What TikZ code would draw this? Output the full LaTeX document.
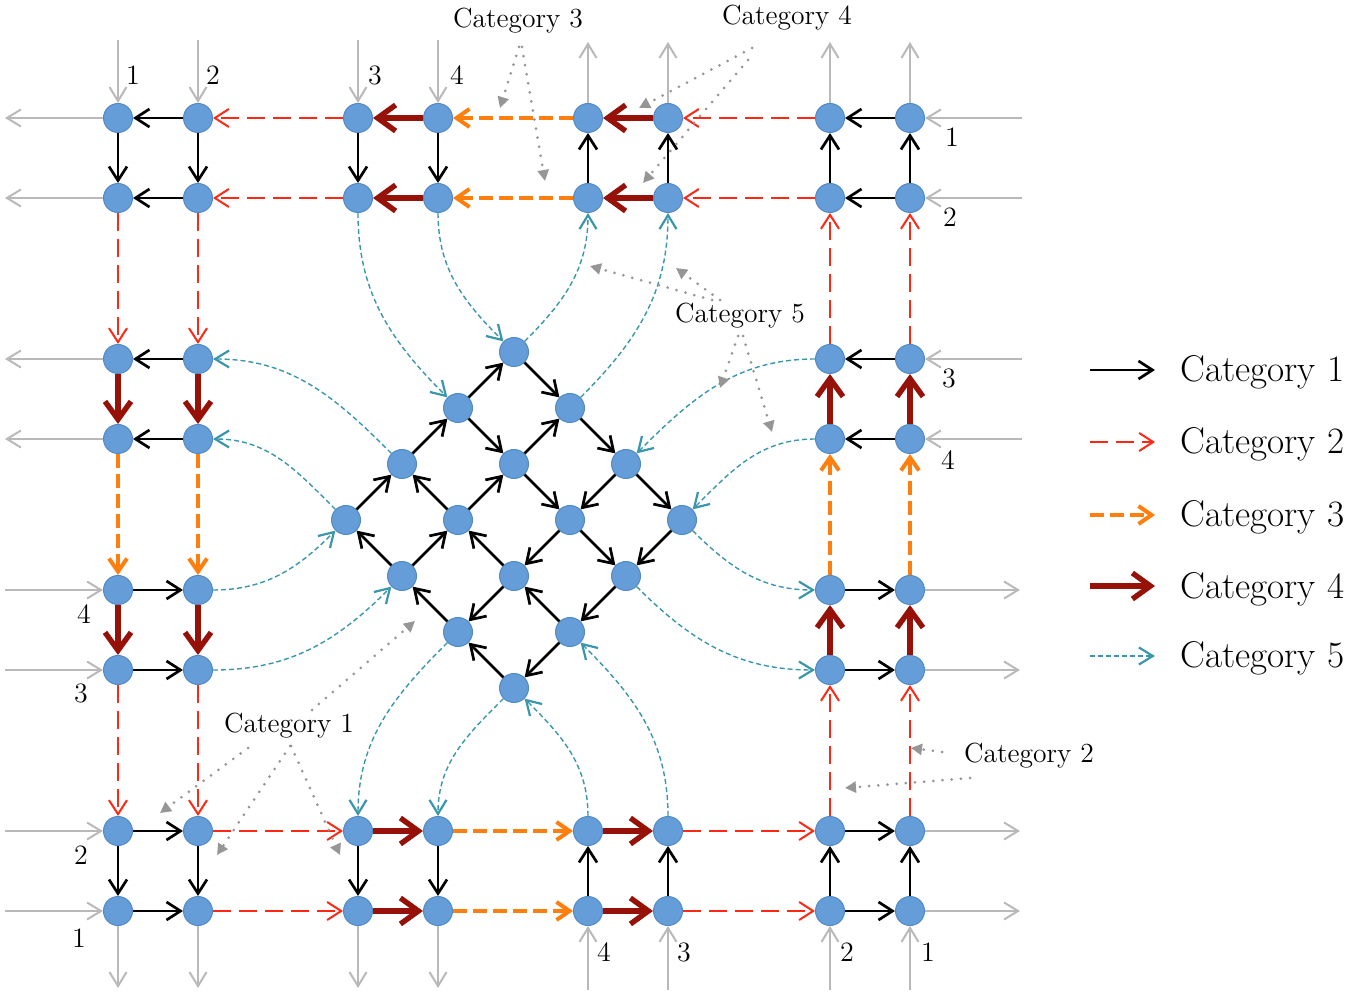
\documentclass[tikz,border=0pt]{standalone}
\usepackage{fontspec}
\usetikzlibrary{arrows.meta}
\definecolor{nodefill}{RGB}{101,157,217}
\definecolor{nodeline}{RGB}{82,138,200}
\definecolor{cred}{RGB}{255,40,20}
\definecolor{corange}{RGB}{255,127,14}
\definecolor{cdark}{RGB}{150,18,8}
\definecolor{cteal}{RGB}{58,150,170}
\definecolor{cgray}{RGB}{185,185,185}
\definecolor{dotgray}{RGB}{150,150,150}
\begin{document}
\begin{tikzpicture}[x=0.5pt,y=-0.5pt,
  vtx/.style={circle,fill=nodefill,draw=nodeline,line width=0.5pt,minimum size=14.5pt,inner sep=0pt},
  c1/.style={draw=black,line width=1.35pt,-{Straight Barb[length=7pt,width=9pt]}},
  c2/.style={draw=cred,line width=1pt,dash pattern=on 9pt off 4pt,-{Straight Barb[length=7pt,width=9pt]}},
  c3/.style={draw=corange,line width=2pt,dash pattern=on 7pt off 3pt,-{Straight Barb[length=6.5pt,width=9pt]}},
  c4/.style={draw=cdark,line width=2.7pt,-{Straight Barb[length=9pt,width=13pt]}},
  c5/.style={draw=cteal,line width=0.7pt,dash pattern=on 2.5pt off 1.5pt,-{Straight Barb[length=7pt,width=8.5pt,line width=1.1pt]}},
  gio/.style={draw=cgray,line width=1pt,-{Straight Barb[length=7pt,width=8.5pt]}},
  ann/.style={draw=dotgray,line width=1.5pt,line cap=round,dash pattern=on 0pt off 4.6pt,-{Triangle[length=5.5pt,width=5.5pt]}},
  num/.style={font=\fontsize{14}{16}\selectfont,inner sep=0pt},
  anntext/.style={font=\fontsize{13.8}{16}\selectfont,inner sep=1pt},
  legtext/.style={font=\fontsize{18.6}{21}\selectfont,inner sep=0pt,anchor=base west}]
\useasboundingbox (0,0) rectangle (1362,1000);

% perimeter nodes
\foreach \c/\x in {1/118,2/198,3/358,4/438,5/588,6/668,7/830,8/910}{
  \foreach \r/\y in {1/118,2/198,7/831,8/911}{
    \node[vtx] (p\c\r) at (\x,\y) {};
  }
}
\foreach \c/\x in {1/118,2/198,7/830,8/910}{
  \foreach \r/\y in {3/359,4/439,5/590,6/670}{
    \node[vtx] (p\c\r) at (\x,\y) {};
  }
}
% lattice nodes
\foreach \i in {0,...,3}{
  \foreach \j in {0,...,3}{
    \node[vtx] (L\i\j) at ({346+56*\i+56*\j},{520-56*\i+56*\j}) {};
  }
}

% category 1 (black)
\foreach \a/\b in {21/11,22/12,11/12,21/22,31/32,41/42,52/51,62/61,
  81/71,82/72,72/71,82/81,83/73,84/74,75/85,76/86,
  77/87,78/88,78/77,88/87,58/57,68/67,37/38,47/48,
  17/27,18/28,17/18,27/28,23/13,24/14,15/25,16/26}
  \draw[c1] (p\a) -- (p\b);
\foreach \a/\b in {00/10,10/20,20/30,01/11,11/21,21/31,32/22,22/12,12/02,
  33/23,23/13,13/03,20/21,21/22,22/23,30/31,31/32,32/33,
  03/02,02/01,01/00,13/12,12/11,11/10}
  \draw[c1] (L\a) -- (L\b);

% category 2 (red dashed)
\foreach \a/\b in {31/21,32/22,71/61,72/62,73/72,83/82,77/76,87/86,
  67/77,68/78,27/37,28/38,12/13,22/23,16/17,26/27}
  \draw[c2] (p\a) -- (p\b);

% category 3 (orange dashed)
\foreach \a/\b in {51/41,52/42,75/74,85/84,47/57,48/58,14/15,24/25}
  \draw[c3] (p\a) -- (p\b);

% category 4 (dark red)
\foreach \a/\b in {41/31,42/32,61/51,62/52,74/73,84/83,76/75,86/85,
  57/67,58/68,37/47,38/48,13/14,23/24,15/16,25/26}
  \draw[c4] (p\a) -- (p\b);

% category 5 (teal curves)
\draw[c5] (p32) to[out=270,in=135] (L20);
\draw[c5] (p42) to[out=270,in=135] (L30);
\draw[c5] (L30) to[out=45,in=270] (p52);
\draw[c5] (L31) to[out=45,in=270] (p62);
\draw[c5] (p73) to[out=180,in=45] (L32);
\draw[c5] (p74) to[out=180,in=45] (L33);
\draw[c5] (L33) to[out=-45,in=180] (p75);
\draw[c5] (L23) to[out=-45,in=180] (p76);
\draw[c5] (p67) to[out=90,in=-45] (L13);
\draw[c5] (p57) to[out=90,in=-45] (L03);
\draw[c5] (L03) to[out=225,in=90] (p47);
\draw[c5] (L02) to[out=225,in=90] (p37);
\draw[c5] (p26) to[out=0,in=225] (L01);
\draw[c5] (p25) to[out=0,in=225] (L00);
\draw[c5] (L00) to[out=135,in=0] (p24);
\draw[c5] (L10) to[out=135,in=0] (p23);

% gray inputs / outputs
\foreach \c/\x in {1/118,2/198,3/358,4/438}{
  \coordinate (ti\c) at (\x,40); \draw[gio] (ti\c) -- (p\c1);
  \coordinate (bo\c) at (\x,988); \draw[gio] (p\c8) -- (bo\c);
}
\foreach \c/\x in {5/588,6/668,7/830,8/910}{
  \coordinate (to\c) at (\x,42); \draw[gio] (p\c1) -- (to\c);
  \coordinate (bi\c) at (\x,990); \draw[gio] (bi\c) -- (p\c8);
}
\foreach \r/\y in {1/118,2/198,3/359,4/439}{
  \coordinate (lo\r) at (5,\y); \draw[gio] (p1\r) -- (lo\r);
  \coordinate (ri\r) at (1022,\y); \draw[gio] (ri\r) -- (p8\r);
}
\foreach \r/\y in {5/590,6/670,7/831,8/911}{
  \coordinate (li\r) at (5,\y); \draw[gio] (li\r) -- (p1\r);
  \coordinate (ro\r) at (1020,\y); \draw[gio] (p8\r) -- (ro\r);
}

% port numbers
\node[num] (nt1) at (133,75) {1};
\node[num] (nt2) at (213,75) {2};
\node[num] (nt3) at (375,75) {3};
\node[num] (nt4) at (457,75) {4};
\node[num] (nr1) at (952,137) {1};
\node[num] (nr2) at (950,217) {2};
\node[num] (nr3) at (949,378) {3};
\node[num] (nr4) at (948,460) {4};
\node[num] (nl4) at (84,614) {4};
\node[num] (nl3) at (81,693) {3};
\node[num] (nl2) at (81,855) {2};
\node[num] (nl1) at (79,938) {1};
\node[num] (nb4) at (604,952) {4};
\node[num] (nb3) at (684,952) {3};
\node[num] (nb2) at (847,952) {2};
\node[num] (nb1) at (928,952) {1};

% annotations
\node[anntext] (a3) at (518,21) {Category 3};
\node[anntext] (a4) at (787,18) {Category 4};
\node[anntext] (a5) at (740,316) {Category 5};
\node[anntext] (a1) at (289,726) {Category 1};
\node[anntext] (a2) at (1029,756) {Category 2};

\coordinate (s3a) at (519,47); \coordinate (t3a) at (500,108);
\coordinate (s3b) at (522,47); \coordinate (t3b) at (545,181);
\draw[ann] (s3a) -- (t3a);
\draw[ann] (s3b) -- (t3b);
\coordinate (s4a) at (752,48); \coordinate (t4a) at (639,108);
\coordinate (s4b) at (748,60); \coordinate (t4b) at (643,183);
\draw[ann] (s4a) -- (t4a);
\draw[ann] (s4b) -- (t4b);
\coordinate (s5a) at (712,300); \coordinate (t5a) at (590,266);
\coordinate (s5b) at (720,300); \coordinate (t5b) at (676,268);
\coordinate (s5c) at (738,336); \coordinate (t5c) at (720,388);
\coordinate (s5d) at (743,336); \coordinate (t5d) at (772,432);
\draw[ann] (s5a) -- (t5a);
\draw[ann] (s5b) -- (t5b);
\draw[ann] (s5c) -- (t5c);
\draw[ann] (s5d) -- (t5d);
\coordinate (s1a) at (248,748); \coordinate (t1a) at (160,813);
\coordinate (s1b) at (290,746); \coordinate (t1b) at (217,855);
\coordinate (s1c) at (291,746); \coordinate (t1c) at (340,855);
\coordinate (s1d) at (312,710); \coordinate (t1d) at (415,621);
\draw[ann] (s1a) -- (t1a);
\draw[ann] (s1b) -- (t1b);
\draw[ann] (s1c) -- (t1c);
\draw[ann] (s1d) -- (t1d);
\coordinate (s2a) at (942,752); \coordinate (t2a) at (911,748);
\coordinate (s2b) at (970,778); \coordinate (t2b) at (845,788);
\draw[ann] (s2a) -- (t2a);
\draw[ann] (s2b) -- (t2b);

% legend
\foreach \k/\y/\s in {1/370/c1,2/442/c2,3/515/c3,4/586/c4,5/656/c5}{
  \coordinate (lga\k) at (1090,\y);
  \coordinate (lgb\k) at (1155,\y);
  \draw[\s] (lga\k) -- (lgb\k);
  \node[legtext] (lgt\k) at (1180,\y+12) {Category \k};
}
\end{tikzpicture}
\end{document}
